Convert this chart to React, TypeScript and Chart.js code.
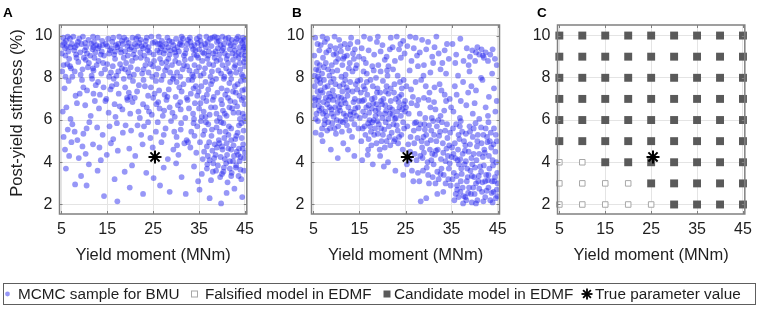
import React, { useEffect, useRef } from "react";
import { Chart, registerables } from "chart.js";

Chart.register(...registerables);

// ---------------- data ----------------
const yieldMomentTicks = [5, 15, 25, 35, 45];
const stiffnessTicks = [2, 4, 6, 8, 10];
const yieldMomentRange = [4.6, 45.4];
const stiffnessRange = [1.55, 10.5];

// MCMC samples for BMU, panel A (flat list: yield moment, post-yield stiffness, ...)
const mcmcSamplesA = [
  5.4,9.9, 7.8,9.3, 12.1,9.7, 16.5,9.1, 21.3,9.85, 26.7,9.4, 31.2,9.95, 35.8,9.2, 40.4,9.6, 44.6,9.35,
  6.2,9.5, 9.7,9.95, 13.8,9.25, 18.4,9.6, 23.1,9.05, 28.5,9.75, 33.4,9.5, 37.9,9.9, 42.3,9.15, 44.9,9.8,
  5.1,9.15, 8.6,9.7, 11.3,9.05, 15.2,9.85, 19.9,9.35, 24.6,9.95, 29.8,9.2, 34.7,9.65, 39.1,9.4, 43.5,9.95,
  6.9,9.85, 10.4,9.45, 14.7,9.6, 17.6,9.95, 22.5,9.5, 27.3,9.15, 32.6,9.8, 36.5,9.45, 41.2,9.05, 45.0,9.55,
  5.8,9.4, 9.1,9.2, 12.9,9.9, 16.9,9.55, 20.7,9.1, 25.4,9.7, 30.3,9.45, 35.1,9.95, 38.6,9.25, 42.9,9.7,
  7.3,9.6, 11.8,9.35, 15.9,9.4, 19.2,9.8, 23.8,9.3, 28.1,9.9, 31.7,9.05, 36.9,9.7, 40.8,9.85, 44.2,9.1,
  5.6,9.65, 8.2,9.1, 13.3,9.5, 18.0,9.2, 22.0,9.65, 26.2,9.95, 30.8,9.6, 34.2,9.3, 39.7,9.55, 43.9,9.45,
  6.5,9.25, 10.9,9.8, 14.3,9.05, 17.2,9.45, 21.7,9.95, 25.9,9.3, 29.4,9.55, 33.9,9.1, 37.4,9.85, 41.7,9.35,
  7.6,9.95, 9.4,9.6, 12.4,9.2, 16.1,9.7, 20.3,9.45, 24.2,9.2, 27.8,9.6, 32.2,9.35, 36.1,9.15, 40.1,9.95, 44.4,9.65,
  5.2,9.55, 11.5,9.6, 15.6,9.3, 19.5,9.05, 23.4,9.75, 27.0,9.5, 31.5,9.85, 35.5,9.55, 38.9,9.7, 42.6,9.5,
  6.0,9.75, 10.1,9.3, 13.9,9.75, 18.7,9.9, 22.8,9.4, 26.5,9.6, 30.0,9.05, 33.1,9.7, 37.1,9.25, 41.5,9.65, 45.1,9.25,
  8.0,9.45, 12.6,9.55, 17.9,9.35, 21.0,9.6, 28.8,9.3, 34.5,9.85, 39.4,9.1, 43.2,9.85,
  5.9,9.05, 7.0,9.45, 8.9,9.85, 10.6,9.15, 11.9,9.95, 13.0,9.4, 14.0,9.55, 15.4,9.15, 16.3,9.9, 17.4,9.6, 18.9,9.25, 19.7,9.65,
  20.9,9.3, 21.5,9.5, 22.3,9.8, 23.3,9.55, 24.0,9.45, 25.1,9.1, 26.0,9.6, 26.9,9.75, 27.6,9.3, 28.3,9.45, 29.1,9.7, 30.0,9.85,
  30.6,9.25, 31.3,9.55, 32.0,9.15, 33.0,9.9, 33.7,9.35, 34.5,9.05, 35.3,9.75, 36.3,9.6, 37.0,9.05, 37.7,9.5, 38.4,9.95, 39.3,9.75,
  40.0,9.3, 40.6,9.15, 41.4,9.9, 42.1,9.8, 42.8,9.3, 43.6,9.2, 44.1,9.75, 44.8,9.45,
  6.4,9.95, 8.4,9.55, 10.2,9.65, 12.0,9.45, 13.6,9.1, 15.0,9.5, 16.7,9.25, 18.2,9.75, 19.4,9.5, 20.5,9.9, 22.2,9.2, 23.6,9.9,
  24.9,9.65, 26.4,9.2, 28.6,9.1, 29.6,9.35, 31.0,9.7, 32.4,9.6, 34.0,9.55, 35.0,9.35, 36.6,9.95, 38.1,9.15, 39.0,9.9, 40.3,9.4,
  41.9,9.55, 43.0,9.05, 44.6,9.9, 45.0,9.05,
  5.5,8.6, 9.2,8.15, 13.1,8.8, 17.4,8.3, 22.3,8.95, 26.1,8.45, 30.6,8.7, 35.3,8.1, 39.6,8.85, 44.0,8.4,
  6.7,8.9, 10.8,8.5, 15.4,8.05, 19.1,8.7, 24.0,8.25, 28.3,8.9, 32.9,8.35, 37.2,8.65, 41.9,8.2, 44.8,8.75,
  7.9,8.3, 12.2,8.95, 16.2,8.55, 20.8,8.15, 25.2,8.8, 29.5,8.05, 34.0,8.6, 38.4,8.95, 42.7,8.5,
  5.9,8.05, 11.0,8.7, 14.5,8.4, 18.6,8.95, 23.3,8.6, 27.6,8.35, 31.9,8.85, 36.3,8.45, 40.5,8.05, 43.6,8.95,
  8.7,8.75, 13.7,8.2, 17.8,8.65, 21.6,8.4, 26.9,8.7, 30.2,8.25, 35.7,8.8, 39.2,8.35, 44.3,8.15,
  7.1,8.45, 12.0,8.35, 16.7,8.9, 20.1,8.5, 24.8,8.05, 29.1,8.6, 33.5,8.15, 37.8,8.3, 41.3,8.7, 45.0,8.55,
  9.9,8.95, 15.0,8.65, 19.6,8.25, 23.7,8.85, 28.0,8.5, 32.4,8.55, 36.8,8.9, 40.9,8.45, 43.1,8.25,
  6.3,8.65, 11.6,8.1, 18.2,8.45, 22.6,8.2, 27.2,8.1, 31.4,8.4, 34.8,8.95, 38.1,8.6, 42.4,8.85,
  5.2,8.3, 6.9,8.55, 8.3,8.95, 9.6,8.4, 10.3,8.85, 12.7,8.6, 14.1,8.7, 15.8,8.25, 17.0,8.1, 18.9,8.4, 20.4,8.8, 21.2,8.95,
  22.9,8.4, 24.4,8.65, 25.7,8.15, 26.5,8.9, 27.9,8.75, 29.8,8.8, 30.9,8.05, 31.7,8.6, 33.2,8.9, 34.4,8.3, 35.0,8.5, 36.0,8.2,
  37.5,8.05, 38.8,8.8, 40.1,8.6, 41.0,8.9, 41.6,8.3, 42.9,8.6, 43.9,8.7, 44.6,8.05,
  11.9,8.45, 19.9,8.05, 25.0,8.55, 33.8,8.05, 39.8,8.2, 45.0,8.9, 7.4,8.05, 28.7,8.25,
  5.7,7.5, 9.5,7.9, 13.4,7.2, 17.0,7.7, 21.5,7.35, 25.6,7.85, 29.9,7.1, 34.3,7.6, 38.7,7.95, 43.0,7.3,
  8.1,7.15, 12.5,7.65, 16.4,7.95, 20.0,7.1, 24.5,7.55, 28.7,7.8, 33.2,7.25, 37.0,7.45, 41.6,7.75, 44.7,7.05,
  10.6,7.4, 14.8,7.0, 18.9,7.55, 22.9,7.9, 27.5,7.2, 31.6,7.7, 35.9,7.05, 39.9,7.5, 44.1,7.85,
  6.6,7.85, 11.7,7.95, 15.7,7.45, 19.7,7.3, 23.9,7.15, 28.4,7.45, 32.7,7.9, 36.4,7.8, 40.7,7.2, 42.8,7.6,
  13.0,7.8, 17.5,7.25, 21.9,7.65, 26.3,7.4, 30.7,7.55, 34.9,7.35, 38.2,7.1, 42.0,7.95, 45.0,7.45,
  9.0,7.25, 16.0,7.6, 20.6,7.85, 25.0,7.05, 29.3,7.95, 33.8,7.5, 37.6,7.7, 41.1,7.4, 43.8,7.15,
  21.0,7.05, 23.2,7.6, 25.3,7.25, 26.8,7.9, 28.1,7.1, 30.1,7.8, 31.2,7.35, 32.3,7.05, 33.5,7.9, 34.6,7.15, 35.5,7.6, 36.7,7.2,
  37.9,7.85, 39.0,7.3, 40.4,7.95, 41.3,7.05, 42.4,7.35, 43.4,7.7, 44.4,7.4, 45.0,7.9,
  18.6,7.95, 19.3,7.05, 14.2,7.55, 12.0,7.25, 9.8,7.55,
  5.3,6.4, 8.4,6.8, 11.4,6.2, 14.6,6.9, 18.3,6.5, 22.1,6.1, 25.7,6.75, 29.2,6.35, 32.5,6.95, 35.6,6.15, 38.5,6.6, 41.8,6.9, 44.5,6.3,
  7.0,6.05, 13.2,6.55, 16.8,6.15, 20.5,6.85, 24.1,6.4, 27.9,6.95, 31.0,6.5, 34.1,6.8, 37.3,6.25, 40.2,6.45, 43.3,6.65,
  10.2,6.7, 15.3,6.35, 19.4,6.95, 23.6,6.6, 27.1,6.2, 30.4,6.7, 33.7,6.3, 36.6,6.9, 39.5,6.1, 42.5,6.35, 44.9,6.75,
  12.3,6.9, 17.7,6.65, 21.8,6.4, 26.4,6.55, 32.0,6.1, 35.0,6.55, 38.0,6.95, 41.0,6.2, 43.9,6.05,
  6.1,6.6, 28.6,6.6, 36.0,6.4, 40.0,6.75, 42.2,6.55,
  24.7,6.25, 26.1,6.85, 27.4,6.45, 29.7,6.15, 30.9,6.85, 32.8,6.55, 33.9,6.05, 35.3,6.8, 36.4,6.15, 37.6,6.6, 38.8,6.3, 39.8,6.95,
  40.6,6.3, 41.6,6.6, 42.8,6.85, 43.6,6.35, 44.3,6.95, 44.9,6.15, 16.6,6.75, 22.8,6.75, 20.0,6.3,
  5.5,5.2, 7.4,5.8, 9.8,5.35, 12.8,5.65, 16.3,5.1, 19.0,5.75, 22.4,5.3, 26.0,5.9, 29.6,5.45, 32.3,5.05, 34.6,5.7, 37.7,5.25, 40.3,5.85, 43.4,5.4, 45.0,5.95,
  6.4,5.55, 11.1,5.9, 14.0,5.3, 20.2,5.5, 24.4,5.15, 27.7,5.6, 31.1,5.85, 36.2,5.5, 39.3,5.05, 42.0,5.6, 44.3,5.15,
  8.5,5.05, 17.1,5.85, 23.0,5.7, 30.1,5.2, 33.3,5.45, 35.4,5.95, 38.8,5.65, 41.4,5.3, 43.7,5.75,
  10.5,5.6, 15.5,5.7, 28.9,5.95, 34.0,5.25, 37.0,5.8, 40.8,5.45, 44.7,5.5, 39.8,5.9, 42.9,5.1,
  35.9,5.3, 36.5,5.9, 37.2,4.95, 37.8,5.55, 38.4,4.85, 38.9,5.95, 39.5,5.45, 40.0,4.75, 40.5,5.15, 41.0,4.9, 41.5,5.7, 42.0,5.05,
  42.6,4.3, 43.1,5.25, 43.7,4.65, 44.2,5.85, 44.8,4.2,
  31.0,5.55, 32.6,4.95, 33.8,5.85, 30.2,4.8, 27.3,5.3, 25.6,5.45, 23.9,5.9, 21.6,5.75, 18.4,5.4, 13.3,4.7, 7.9,5.45, 6.7,4.3,
  5.8,4.6, 8.8,4.2, 11.9,4.85, 13.6,4.1, 17.3,4.55, 21.1,4.3, 24.9,4.7, 28.2,4.15, 31.8,4.9, 34.4,4.45, 36.7,4.75, 38.3,4.2, 40.1,4.6, 41.7,4.05, 43.2,4.5, 44.6,4.85,
  7.2,4.95, 10.3,4.4, 15.8,4.9, 19.8,4.65, 26.8,4.95, 30.5,4.35, 33.1,4.7, 35.8,4.15, 37.9,4.55, 39.4,4.9, 41.1,4.35, 42.5,4.8, 44.0,4.25,
  9.6,4.75, 14.9,4.35, 22.7,4.85, 29.4,4.6, 35.2,4.95, 36.9,4.3, 38.9,4.7, 40.6,4.15, 42.0,4.6, 43.8,4.05, 45.0,4.45,
  36.1,4.5, 36.7,3.7, 37.3,4.1, 38.0,3.55, 38.6,4.35, 39.1,3.85, 39.7,4.25, 40.3,3.55, 40.9,3.95, 41.4,4.65, 42.0,3.35, 42.4,4.05,
  43.0,3.75, 43.5,4.35, 44.0,3.65, 44.5,4.65,
  6.0,3.7, 9.3,3.35, 12.9,3.6, 16.6,3.2, 20.4,3.85, 23.5,3.5, 27.3,3.75, 31.2,3.3, 33.9,3.8, 35.6,3.45, 36.8,3.9, 37.6,3.15, 38.7,3.6, 39.6,3.3, 40.4,3.75, 41.2,3.05, 42.1,3.5, 43.1,3.85, 44.2,3.2, 44.8,3.6,
  11.0,3.9, 18.8,3.55, 25.1,3.25, 30.0,3.95, 34.8,3.1, 38.1,3.95, 40.0,3.45, 41.7,3.7, 43.6,3.35,
  14.3,2.4, 17.2,2.15, 19.9,2.8, 22.8,2.5, 26.5,2.9, 28.6,2.6, 32.1,2.5, 35.1,2.7, 37.3,2.3, 39.8,2.05, 41.0,2.55, 42.7,2.75, 44.4,2.35, 10.5,2.9, 8.0,2.95,
];

// MCMC samples for BMU, panel B
const mcmcSamplesB = [
  5.4,9.9, 6.3,9.3, 7.5,9.7, 8.2,8.4, 9.4,9.1, 10.6,9.8, 11.3,8.6, 12.5,9.4, 13.8,8.9, 14.6,9.7,
  5.8,8.7, 6.9,8.2, 8.7,9.5, 9.9,8.75, 11.0,9.25, 12.0,8.15, 13.2,9.9, 14.2,8.45, 5.2,9.05, 7.1,8.95,
  8.0,9.85, 10.2,8.35, 11.8,9.6, 13.5,8.3, 14.9,9.0, 6.0,8.05, 9.0,8.6, 10.9,9.5, 12.9,8.7, 7.8,9.2,
  5.6,8.4, 6.6,9.55, 9.6,9.95, 11.5,8.9, 14.0,9.35, 8.5,8.1, 12.3,9.05, 10.0,9.15, 7.3,8.5, 13.0,9.6,
  5.3,8.1, 5.9,9.6, 6.4,8.6, 7.0,9.95, 7.7,8.7, 8.4,9.3, 9.1,8.3, 9.8,9.4, 10.4,8.9, 11.1,8.05, 11.7,9.0, 12.7,8.45, 13.6,9.15, 14.4,8.6,
  5.3,7.6, 6.1,6.9, 7.0,7.3, 7.9,6.2, 8.8,7.8, 9.7,6.6, 10.5,7.1, 11.4,5.9, 12.2,7.55, 13.1,6.4, 14.0,7.0, 14.8,5.6,
  5.7,6.3, 6.5,7.75, 7.4,5.8, 8.3,6.95, 9.2,7.4, 10.1,6.0, 11.0,6.75, 11.9,7.9, 12.8,5.5, 13.7,6.85, 14.5,7.45,
  5.1,7.05, 6.0,5.95, 6.8,6.55, 7.7,7.05, 8.6,5.6, 9.5,7.15, 10.4,5.7, 11.3,7.35, 12.1,6.2, 13.0,7.8, 13.9,5.8, 14.7,6.6,
  5.5,5.4, 6.3,6.45, 7.2,6.85, 8.1,7.6, 9.0,6.3, 9.9,5.35, 10.8,6.45, 11.7,6.95, 12.6,6.6, 13.4,5.2, 14.3,6.2,
  5.9,7.35, 6.7,5.3, 7.6,6.4, 8.5,6.6, 9.4,7.95, 10.3,6.85, 11.2,5.45, 12.4,7.15, 13.3,6.05, 14.2,7.7,
  5.2,6.7, 6.2,7.1, 8.0,5.5, 9.1,5.85, 10.7,7.6, 12.0,6.0, 14.9,6.9, 7.5,6.0, 11.6,6.3, 6.4,7.95,
  5.5,6.05, 5.8,7.85, 6.2,6.65, 6.6,7.4, 7.1,6.3, 7.5,7.55, 8.0,6.75, 8.4,7.25, 8.9,6.5, 9.3,6.95, 9.8,7.7, 10.2,6.35,
  10.6,6.6, 11.1,7.05, 11.5,7.7, 12.0,6.8, 12.5,7.4, 13.0,6.25, 13.5,7.35, 14.1,6.55, 14.6,7.85,
  5.4,6.95, 6.9,5.6, 7.3,7.9, 8.7,7.1, 9.6,5.6, 10.9,5.95, 12.3,5.75, 13.8,6.35, 6.1,8.35, 8.2,5.9, 9.4,6.15,
  15.5,9.4, 16.4,8.7, 17.3,9.85, 18.2,9.1, 19.1,8.6, 20.0,9.55, 20.9,9.0, 21.8,9.9, 22.7,8.8, 23.6,9.35, 24.5,9.75,
  15.9,8.9, 17.0,9.3, 18.8,9.7, 19.6,9.25, 21.3,8.55, 22.2,9.45, 23.1,9.95, 24.0,8.95, 24.8,9.15,
  16.0,9.95, 17.8,8.55, 20.5,8.85, 23.9,9.6, 19.0,9.95, 21.6,9.35,
  15.2,7.9, 15.8,6.4, 16.3,5.3, 16.7,7.2, 17.2,6.0, 17.6,4.8, 18.0,6.8, 18.4,5.6, 18.9,7.5, 19.3,6.3, 19.8,5.0, 20.2,7.0, 20.7,5.9, 21.1,8.1, 21.6,6.6, 22.0,5.4, 22.5,7.3, 22.9,6.1, 23.4,4.9, 23.8,7.8, 24.3,6.5, 24.7,5.6,
  15.4,5.0, 15.9,7.6, 16.5,6.6, 16.9,4.6, 17.4,7.9, 17.8,5.9, 18.3,7.05, 18.7,4.9, 19.1,6.55, 19.6,8.3, 20.0,6.1, 20.5,4.7, 20.9,7.6, 21.4,5.7, 21.8,6.9, 22.3,8.4, 22.7,5.1, 23.2,6.4, 23.6,7.1, 24.1,5.3, 24.6,7.9,
  15.6,6.9, 16.1,5.7, 16.6,8.2, 17.1,6.35, 17.5,5.45, 18.1,6.0, 18.6,8.0, 19.0,5.35, 19.5,7.3, 19.9,6.75, 20.4,5.55, 20.8,6.45, 21.3,7.25, 21.7,4.8, 22.2,6.25, 22.6,7.7, 23.1,5.75, 23.5,6.85, 24.0,6.2, 24.4,4.6, 24.9,6.9,
  16.2,7.45, 17.0,5.1, 17.7,6.55, 18.5,6.45, 19.4,4.6, 20.1,7.85, 20.6,6.7, 21.5,5.2, 22.4,5.8, 23.3,8.1, 24.2,7.5, 18.9,5.95,
  15.3,7.3, 15.7,5.6, 16.2,6.2, 16.6,7.8, 17.0,6.7, 17.3,5.7, 17.7,7.0, 18.2,5.3, 18.5,6.2, 18.8,7.3, 19.2,5.8, 19.7,6.9,
  20.1,5.3, 20.5,6.3, 20.9,5.0, 21.3,6.05, 21.8,7.5, 22.1,6.5, 22.5,5.0, 22.9,7.0, 23.3,5.5, 23.7,6.6, 24.1,7.2, 24.5,5.9, 24.9,6.4,
  15.1,6.1, 16.0,6.95, 16.9,5.85, 17.9,7.6, 18.7,6.75, 19.7,5.6, 20.7,7.35, 21.6,6.3, 22.7,6.05, 23.6,5.2, 24.6,6.75, 15.9,8.3, 18.1,8.35, 21.0,8.35,
  15.6,4.1, 17.9,3.9, 19.5,4.3, 21.2,4.0, 22.8,3.6, 24.5,3.4, 16.8,4.35, 20.3,3.8,
  10.3,4.2, 8.8,4.6, 12.5,4.6, 13.9,4.3, 7.0,5.0, 11.5,4.9,
  25.4,9.5, 26.3,8.8, 27.2,9.9, 28.1,9.2, 29.0,8.6, 29.9,9.7, 30.8,9.0, 31.7,9.95, 32.6,8.4, 33.5,9.3, 34.4,8.9,
  25.9,8.35, 26.8,9.4, 27.7,8.55, 28.6,9.8, 29.5,9.35, 30.4,8.25, 31.3,9.45, 32.2,9.15, 33.0,8.7, 34.0,9.6,
  26.0,9.95, 28.9,8.1, 31.0,8.7, 33.8,8.2, 27.5,9.05,
  25.2,7.6, 25.7,6.3, 26.1,5.2, 26.6,7.1, 27.0,4.4, 27.5,6.7, 27.9,5.6, 28.4,7.9, 28.8,3.6, 29.3,6.1, 29.7,4.9, 30.2,7.3, 30.6,5.5, 31.1,3.9, 31.5,6.5, 32.0,4.6, 32.4,7.7, 32.9,5.9, 33.3,3.4, 33.8,6.9, 34.2,4.3, 34.7,5.4,
  25.4,5.7, 25.9,4.1, 26.3,6.8, 26.8,5.5, 27.2,7.8, 27.7,3.5, 28.1,6.3, 28.6,4.7, 29.0,7.05, 29.5,5.3, 29.9,3.4, 30.4,6.6, 30.8,4.4, 31.3,7.55, 31.7,5.0, 32.2,3.2, 32.6,6.2, 33.1,4.9, 33.5,7.2, 34.0,5.8, 34.4,3.7, 34.9,6.6,
  25.6,4.85, 26.4,3.6, 27.3,5.9, 28.2,4.3, 29.1,5.8, 30.0,6.95, 30.9,3.3, 31.8,5.7, 32.7,4.15, 33.6,5.5, 34.5,4.8,
  26.9,4.9, 28.0,3.1, 28.9,5.2, 29.8,4.0, 30.7,6.1, 31.6,4.55, 32.5,5.45, 33.4,6.45, 34.3,3.2, 35.0,4.25,
  25.1,6.6, 26.2,7.45, 27.8,6.95, 29.4,7.6, 31.2,6.85, 32.8,7.4, 34.6,7.0, 30.1,3.0, 33.2,2.6, 31.9,2.5, 29.5,2.3, 28.3,2.15,
  30.5,5.05, 32.1,6.0, 33.7,4.05, 27.4,4.1, 26.7,3.1,
  27.6,5.15, 28.2,5.8, 28.7,4.2, 29.2,5.55, 29.6,3.75, 30.1,5.75, 30.6,4.1, 31.0,5.95, 31.4,4.35, 31.9,3.55, 32.3,5.25, 32.8,3.7,
  33.2,4.45, 33.7,3.0, 34.1,5.15, 34.6,3.95, 29.0,4.45, 30.3,4.6, 31.5,3.0, 32.6,3.45, 33.9,4.65, 34.8,2.9, 31.2,5.3, 28.5,5.0,
  27.0,5.85, 26.0,4.5, 25.3,3.9,
  35.3,5.6, 35.8,4.2, 36.2,2.9, 36.7,5.1, 37.1,3.7, 37.6,2.4, 38.0,4.8, 38.5,3.3, 38.9,5.7, 39.4,2.1, 39.8,4.4, 40.3,3.0, 40.7,5.3, 41.2,3.8, 41.6,2.6, 42.1,4.6, 42.5,3.4, 43.0,5.9, 43.4,2.2, 43.9,4.1, 44.3,3.1, 44.8,5.0,
  35.5,3.5, 36.0,5.8, 36.4,4.6, 36.9,2.6, 37.3,5.45, 37.8,3.9, 38.2,2.2, 38.7,4.5, 39.1,3.6, 39.6,5.2, 40.0,2.5, 40.5,4.75, 40.9,3.35, 41.4,5.65, 41.8,4.25, 42.3,2.35, 42.7,5.2, 43.2,3.7, 43.6,4.7, 44.1,2.6, 44.5,4.5, 44.9,3.5,
  35.1,4.7, 35.9,2.5, 36.6,3.9, 37.4,4.4, 38.1,5.35, 38.8,2.8, 39.5,3.9, 40.2,5.85, 41.0,4.4, 41.7,3.05, 42.4,5.6, 43.1,4.3, 43.8,3.1, 44.6,2.3,
  35.6,2.2, 36.3,4.1, 37.0,3.1, 37.9,4.55, 39.0,4.85, 40.6,2.2, 42.0,3.85, 43.5,5.4, 44.2,5.6, 44.9,2.4,
  36.8,5.7, 38.4,3.7, 39.9,3.3, 41.5,4.9, 43.0,2.8, 40.4,4.1, 42.8,4.95, 44.7,4.0, 37.5,2.05, 39.2,2.5,
  35.2,3.2, 35.7,4.9, 36.1,3.35, 36.5,5.3, 36.9,4.15, 37.4,2.8, 37.7,5.0, 38.1,4.05, 38.6,2.55, 39.0,5.45, 39.3,4.2, 39.7,2.8,
  40.1,3.75, 40.6,5.0, 41.0,2.75, 41.4,3.55, 41.9,5.3, 42.2,4.45, 42.6,2.65, 43.0,3.4, 43.3,5.0, 43.7,2.55, 44.1,4.85, 44.4,3.3, 44.8,2.7,
  35.4,4.4, 36.2,2.7, 37.2,3.45, 38.3,3.1, 39.4,3.35, 40.8,3.1, 41.9,2.15, 42.9,3.15, 44.0,3.85, 44.6,5.3,
  36.5,2.35, 38.0,2.35, 40.3,2.05, 43.9,2.1, 45.0,3.0, 42.3,3.1, 39.8,5.6, 37.0,5.95,
  35.4,6.4, 36.1,7.2, 36.8,6.1, 37.5,7.8, 38.2,6.7, 38.9,8.3, 39.6,6.3, 40.3,7.4, 41.0,6.05, 41.7,7.9, 42.4,6.6, 43.1,7.1, 43.8,8.2, 44.5,6.4,
  35.7,7.6, 37.0,6.9, 38.6,7.3, 40.0,6.8, 41.4,8.0, 42.9,6.2, 44.2,7.5, 36.4,8.1, 39.3,7.6, 44.8,6.9,
  35.2,9.6, 36.0,9.1, 36.9,9.85, 37.6,8.8, 38.3,9.4, 39.0,9.0, 39.5,9.3, 40.1,8.8, 40.6,9.45, 41.0,9.1, 41.5,9.35, 42.0,8.95, 42.4,9.2, 42.9,8.8, 43.4,9.1, 43.9,9.35, 44.4,8.9, 40.3,9.2, 41.8,9.05, 38.7,8.6, 44.8,8.6, 35.8,8.7,
];

// EDMF model grid (panel C)
const modelYieldMoments = [5, 10, 15, 20, 25, 30, 35, 40, 45];
const modelStiffnesses = [2, 3, 4, 5, 6, 7, 8, 9, 10];
const falsifiedModels = [
  [5, 2], [10, 2], [15, 2], [20, 2], [25, 2],
  [5, 3], [10, 3], [15, 3], [20, 3],
  [5, 4], [10, 4],
];

const trueParameter = [25.4, 4.25];

const xTitle = "Yield moment (MNm)";
const yTitle = "Post-yield stiffness (%)";
const legendLabels = [
  "MCMC sample for BMU",
  "Falsified model in EDMF",
  "Candidate model in EDMF",
  "True parameter value",
];

// ---------------- styling ----------------
const FONT = '"Liberation Sans", Arial, Helvetica, sans-serif';
const TEXT = "#1e1e1e";
const MCMC_COLOR = "rgba(35, 35, 238, 0.47)";
const CANDIDATE_COLOR = "#5a5a5a";
const FALSIFIED_COLOR = "#a8a8a8";
const FRAME_COLOR = "#808080";
const GRID_COLOR = "#e4e4e4";

const toPoints = (flat: number[]) => {
  const pts: { x: number; y: number }[] = [];
  for (let i = 0; i + 1 < flat.length; i += 2) pts.push({ x: flat[i], y: flat[i + 1] });
  return pts;
};

const framePlugin = {
  id: "frameBox",
  afterDraw(chart: any) {
    const { ctx, chartArea } = chart;
    const xs = chart.scales.x;
    const ys = chart.scales.y;
    ctx.save();
    ctx.strokeStyle = FRAME_COLOR;
    ctx.lineWidth = 1.5;
    ctx.strokeRect(chartArea.left, chartArea.top, chartArea.right - chartArea.left, chartArea.bottom - chartArea.top);
    ctx.lineWidth = 1;
    const tl = 3;
    ctx.beginPath();
    yieldMomentTicks.forEach((v) => {
      const px = Math.round(xs.getPixelForValue(v)) + 0.5;
      ctx.moveTo(px, chartArea.bottom);
      ctx.lineTo(px, chartArea.bottom - tl);
      ctx.moveTo(px, chartArea.top);
      ctx.lineTo(px, chartArea.top + tl);
    });
    stiffnessTicks.forEach((v) => {
      const py = Math.round(ys.getPixelForValue(v)) + 0.5;
      ctx.moveTo(chartArea.left, py);
      ctx.lineTo(chartArea.left + tl, py);
      ctx.moveTo(chartArea.right, py);
      ctx.lineTo(chartArea.right - tl, py);
    });
    ctx.stroke();
    ctx.restore();
  },
};

type PanelProps = {
  left: number;
  width: number;
  height: number;
  plotLeft: number;
  plotRight: number;
  plotTop: number;
  plotBottom: number;
  datasets: any[];
};

function Panel({ left, width, height, plotLeft, plotRight, plotTop, plotBottom, datasets }: PanelProps) {
  const ref = useRef<HTMLCanvasElement | null>(null);
  useEffect(() => {
    if (!ref.current) return;
    const yWidth = plotLeft - left;
    const padRight = width - (plotRight - left);
    const xHeight = height - plotBottom;
    const tickFont = { family: FONT, size: 16 };
    const chart = new Chart(ref.current, {
      type: "scatter",
      data: { datasets },
      options: {
        animation: false,
        responsive: false,
        events: [],
        layout: { padding: { top: plotTop, right: padRight, left: 0, bottom: 0 } },
        plugins: { legend: { display: false }, tooltip: { enabled: false } },
        scales: {
          x: {
            type: "linear",
            min: yieldMomentRange[0],
            max: yieldMomentRange[1],
            afterBuildTicks: (s: any) => {
              s.ticks = yieldMomentTicks.map((value) => ({ value }));
            },
            afterFit: (s: any) => {
              s.height = xHeight;
            },
            grid: { color: GRID_COLOR, lineWidth: 1, drawTicks: false },
            border: { display: false },
            ticks: { padding: 6, font: tickFont, color: TEXT, maxRotation: 0, autoSkip: false },
            title: {
              display: true,
              text: xTitle,
              color: TEXT,
              font: { family: FONT, size: 16.5 },
              padding: { top: 0, bottom: 7 },
            },
          },
          y: {
            type: "linear",
            min: stiffnessRange[0],
            max: stiffnessRange[1],
            afterBuildTicks: (s: any) => {
              s.ticks = stiffnessTicks.map((value) => ({ value }));
            },
            afterFit: (s: any) => {
              s.width = yWidth;
            },
            grid: { color: GRID_COLOR, lineWidth: 1, drawTicks: false },
            border: { display: false },
            ticks: { padding: 7, font: tickFont, color: TEXT, autoSkip: false },
          },
        },
      },
      plugins: [framePlugin],
    } as any);
    return () => chart.destroy();
  }, []);
  return (
    <canvas
      ref={ref}
      width={width}
      height={height}
      style={{ position: "absolute", left, top: 0, width, height }}
    />
  );
}

const starDataset = {
  label: legendLabels[3],
  data: [{ x: trueParameter[0], y: trueParameter[1] }],
  pointStyle: "star",
  pointRadius: 6.5,
  pointBorderColor: "#000000",
  pointBorderWidth: 2,
  pointBackgroundColor: "#000000",
  clip: false,
};

const mcmcDataset = (flat: number[]) => ({
  label: legendLabels[0],
  data: toPoints(flat),
  pointStyle: "circle",
  pointRadius: 2.9,
  pointBorderWidth: 0,
  pointBackgroundColor: MCMC_COLOR,
});

const falsifiedPoints = falsifiedModels.map(([x, y]) => ({ x, y }));
const candidatePoints: { x: number; y: number }[] = [];
modelStiffnesses.forEach((y) =>
  modelYieldMoments.forEach((x) => {
    if (!falsifiedModels.some(([fx, fy]) => fx === x && fy === y)) candidatePoints.push({ x, y });
  })
);

const PANEL_H = 272;
const PLOT_TOP = 25;
const PLOT_BOTTOM = 214;

export default function App() {
  const letterStyle = (left: number): React.CSSProperties => ({
    position: "absolute",
    left,
    top: 6,
    fontFamily: FONT,
    fontWeight: "bold",
    fontSize: 13.5,
    lineHeight: "13px",
    color: "#000",
  });
  const legendText = (left: number): React.CSSProperties => ({
    position: "absolute",
    left,
    top: 283,
    height: 22,
    lineHeight: "22px",
    fontFamily: FONT,
    fontSize: 15.3,
    color: TEXT,
    whiteSpace: "nowrap",
  });
  return (
    <div
      style={{
        position: "absolute",
        left: 0,
        top: 0,
        width: 758,
        height: 315,
        background: "#ffffff",
        overflow: "hidden",
      }}
    >
      <Panel
        left={0}
        width={260}
        height={PANEL_H}
        plotLeft={59.5}
        plotRight={247.5}
        plotTop={PLOT_TOP}
        plotBottom={PLOT_BOTTOM}
        datasets={[starDataset, mcmcDataset(mcmcSamplesA)]}
      />
      <Panel
        left={258}
        width={256}
        height={PANEL_H}
        plotLeft={311.5}
        plotRight={499.5}
        plotTop={PLOT_TOP}
        plotBottom={PLOT_BOTTOM}
        datasets={[starDataset, mcmcDataset(mcmcSamplesB)]}
      />
      <Panel
        left={504}
        width={254}
        height={PANEL_H}
        plotLeft={557.5}
        plotRight={745.5}
        plotTop={PLOT_TOP}
        plotBottom={PLOT_BOTTOM}
        datasets={[
          starDataset,
          {
            label: legendLabels[2],
            data: candidatePoints,
            pointStyle: "rect",
            pointRadius: 5.6,
            pointBorderWidth: 0,
            pointBackgroundColor: CANDIDATE_COLOR,
            clip: false,
          },
          {
            label: legendLabels[1],
            data: falsifiedPoints,
            pointStyle: "rect",
            pointRadius: 3.9,
            pointBorderWidth: 1,
            pointBorderColor: FALSIFIED_COLOR,
            pointBackgroundColor: "#ffffff",
            clip: false,
          },
        ]}
      />

      <div style={letterStyle(3)}>A</div>
      <div style={letterStyle(292)}>B</div>
      <div style={letterStyle(537)}>C</div>

      <div
        style={{
          position: "absolute",
          left: 15.5,
          top: 112.5,
          transform: "translate(-50%, -50%) rotate(-90deg)",
          fontFamily: FONT,
          fontSize: 16.5,
          lineHeight: "18px",
          color: TEXT,
          whiteSpace: "nowrap",
        }}
      >
        {yTitle}
      </div>

      {/* legend */}
      <div
        style={{
          position: "absolute",
          left: 3,
          top: 283,
          width: 753,
          height: 22,
          boxSizing: "border-box",
          border: "1px solid #5e5e5e",
          background: "#fff",
        }}
      />
      <svg
        width={758}
        height={315}
        style={{ position: "absolute", left: 0, top: 0, pointerEvents: "none" }}
      >
        <circle cx={7.5} cy={294} r={2.4} fill={MCMC_COLOR} />
        <rect x={191.5} y={291} width={6} height={6} fill="#fff" stroke={FALSIFIED_COLOR} strokeWidth={1} />
        <rect x={383.5} y={290.5} width={7} height={7} fill={CANDIDATE_COLOR} />
        <g stroke="#000" strokeWidth={1.8}>
          <line x1={581.5} y1={294} x2={592.5} y2={294} />
          <line x1={587} y1={288.5} x2={587} y2={299.5} />
          <line x1={583.1} y1={290.1} x2={590.9} y2={297.9} />
          <line x1={583.1} y1={297.9} x2={590.9} y2={290.1} />
        </g>
      </svg>
      <div style={legendText(18)}>{legendLabels[0]}</div>
      <div style={legendText(205)}>{legendLabels[1]}</div>
      <div style={legendText(394)}>{legendLabels[2]}</div>
      <div style={legendText(595)}>{legendLabels[3]}</div>
    </div>
  );
}
